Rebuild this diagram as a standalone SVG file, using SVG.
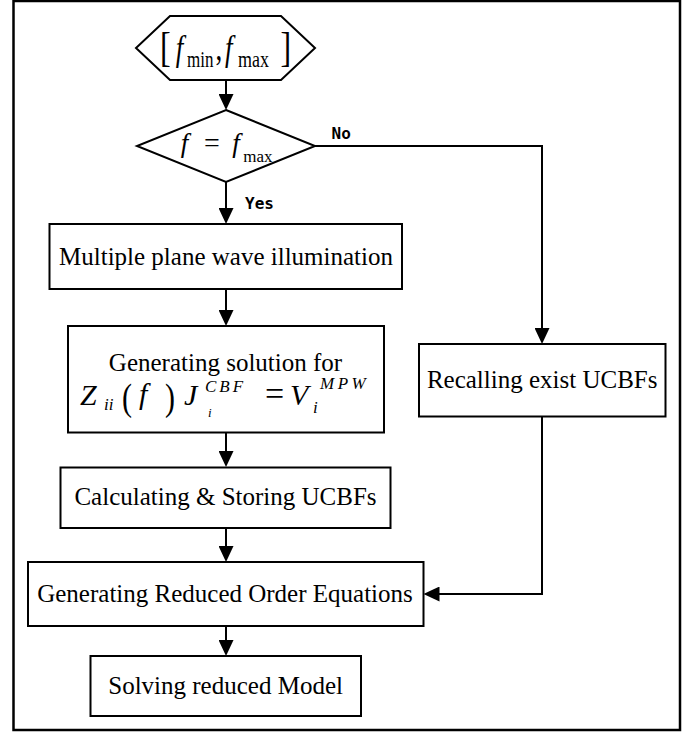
<svg xmlns="http://www.w3.org/2000/svg" width="697" height="732" viewBox="0 0 697 732">
<style>
.box{fill:#fff;stroke:#000;stroke-width:2}
.lbl{font-family:"Liberation Serif","Times New Roman",serif;font-size:25px;fill:#000;text-anchor:middle}
.m{font-family:"Liberation Serif","Times New Roman",serif;fill:#000}
.it{font-style:italic}
.yn{font-family:"DejaVu Sans Mono","Liberation Mono",monospace;font-weight:bold;font-size:16px;fill:#000}
.conn{fill:none;stroke:#000;stroke-width:2}
</style>
<defs>
<marker id="arr" markerUnits="userSpaceOnUse" markerWidth="16" markerHeight="15" refX="6" refY="7.5" orient="auto">
<path d="M0,0 L16,7.5 L0,15 z" fill="#000"/>
</marker>
</defs>
<rect x="0" y="0" width="697" height="732" fill="#fff"/>
<rect x="13.5" y="1" width="666.5" height="729" fill="none" stroke="#000" stroke-width="2.5"/>

<g id="connectors">
<path class="conn" d="M226,80 V100" marker-end="url(#arr)"/>
<path class="conn" d="M226,182 V214" marker-end="url(#arr)"/>
<path class="conn" d="M226,289 V316" marker-end="url(#arr)"/>
<path class="conn" d="M226,432.5 V457" marker-end="url(#arr)"/>
<path class="conn" d="M226,528 V552" marker-end="url(#arr)"/>
<path class="conn" d="M226,626 V646" marker-end="url(#arr)"/>
<path class="conn" d="M315,146 H542 V334" marker-end="url(#arr)"/>
<path class="conn" d="M542,416.5 V594 H433.5" marker-end="url(#arr)"/>
<text class="yn" x="331.5" y="138.5">No</text>
<text class="yn" x="245" y="208.5">Yes</text>
</g>

<g id="start">
<polygon class="box" points="170,16 281,16 315,48 281,80 170,80 136,48"/>
<g transform="translate(0,59.5) scale(1,1.3)">
<text class="m" x="160" y="1.5" font-size="32">[</text>
<text class="m it" x="175.7" y="0" font-size="27">f</text>
<text class="m" x="187" y="5.5" font-size="17">min</text>
<text class="m" x="215.5" y="0" font-size="27">,</text>
<text class="m it" x="225" y="0" font-size="27">f</text>
<text class="m" x="238" y="5.5" font-size="18">max</text>
<text class="m" x="280.5" y="1.5" font-size="32">]</text>
</g>
</g>

<g id="decision">
<polygon class="box" points="226,110 315,146 226,182 137,146"/>
<text class="m it" x="180.7" y="152" font-size="27">f</text>
<text class="m" x="204" y="152" font-size="28">=</text>
<text class="m it" x="232.3" y="152" font-size="27">f</text>
<text class="m" x="243.3" y="161.7" font-size="17">max</text>
</g>

<g id="illumination">
<rect class="box" x="49.5" y="224" width="352.5" height="65"/>
<text class="lbl" x="226" y="265">Multiple plane wave illumination</text>
</g>

<g id="solution">
<rect class="box" x="68" y="326" width="316" height="106.5"/>
<text class="lbl" x="225.5" y="371">Generating solution for</text>
<text class="m it" x="80" y="405" font-size="30">Z</text>
<text class="m it" x="104" y="410" font-size="17">ii</text>
<text class="m" transform="translate(122,410) scale(1,1.25)" font-size="30">(</text>
<text class="m it" x="139" y="404" font-size="30">f</text>
<text class="m" transform="translate(165,410) scale(1,1.25)" font-size="30">)</text>
<text class="m it" x="184" y="405" font-size="30">J</text>
<text class="m it" x="208" y="417" font-size="13">i</text>
<text class="m it" x="205" y="392" font-size="17" letter-spacing="3">CBF</text>
<text class="m" x="265" y="405" font-size="34">=</text>
<text class="m it" x="290" y="405" font-size="30">V</text>
<text class="m it" x="313" y="413" font-size="17">i</text>
<text class="m it" x="320" y="389" font-size="17" letter-spacing="3.5">MPW</text>
</g>

<g id="storing">
<rect class="box" x="60.5" y="467.5" width="330" height="60.5"/>
<text class="lbl" x="225.5" y="505">Calculating &amp; Storing UCBFs</text>
</g>

<g id="reduced">
<rect class="box" x="28" y="562" width="395.5" height="64"/>
<text class="lbl" x="225" y="601.7">Generating Reduced Order Equations</text>
</g>

<g id="solving">
<rect class="box" x="90.5" y="656" width="270.5" height="60"/>
<text class="lbl" x="225.6" y="694">Solving reduced Model</text>
</g>

<g id="recalling">
<rect class="box" x="419" y="344" width="246.5" height="72.5"/>
<text class="lbl" x="542.2" y="388.3">Recalling exist UCBFs</text>
</g>
</svg>
